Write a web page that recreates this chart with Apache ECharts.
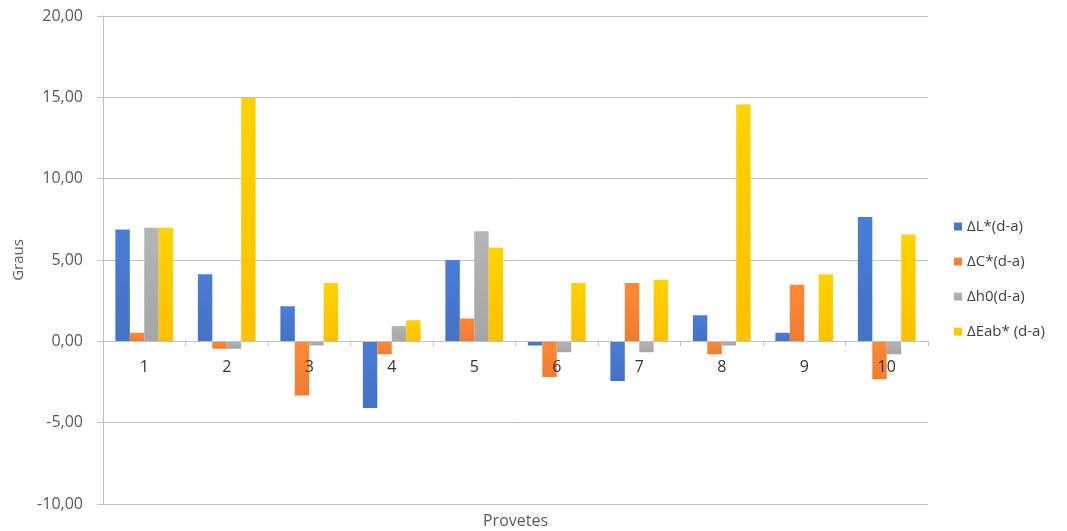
<!DOCTYPE html>
<html><head><meta charset="utf-8">
<script src="https://cdn.jsdelivr.net/npm/echarts@6/dist/echarts.min.js"></script>
<style>html,body{margin:0;padding:0;background:#fff}#c{width:1067px;height:531px}</style>
</head><body><div id="c"></div>
<script>
const categories = ['1','2','3','4','5','6','7','8','9','10'];
const seriesNames = ['ΔL*(d-a)','ΔC*(d-a)','Δh0(d-a)','ΔEab* (d-a)'];
const dL = [6.87, 4.13, 2.15, -4.10, 5.00, -0.25, -2.44, 1.60, 0.52, 7.65];
const dC = [0.52, -0.45, -3.33, -0.79, 1.40, -2.19, 3.58, -0.79, 3.48, -2.33];
const dH = [6.98, -0.45, -0.25, 0.94, 6.77, -0.67, -0.67, -0.25, 0.02, -0.79];
const dE = [6.98, 14.98, 3.58, 1.29, 5.77, 3.58, 3.79, 14.56, 4.13, 6.56];
const colors = ['#4472C4','#ED7D31','#A5A5A5','#FFC000'];
const values = [dL, dC, dH, dE];
const font = 'Open Sans, Liberation Sans, sans-serif';
const chart = echarts.init(document.getElementById('c'));
chart.setOption({
  animation: false,
  color: colors,
  grid: {left: 103, right: 139, top: 16, bottom: 27, containLabel: false, outerBoundsMode: 'none'},
  legend: {
    orient: 'vertical', left: 949, top: 213, itemWidth: 8, itemHeight: 8, itemGap: 18,
    icon: 'rect', textStyle: {fontFamily: font, fontSize: 15, lineHeight: 17, color: '#404040'},
    data: seriesNames
  },
  xAxis: {
    type: 'category', data: categories, z: 10,
    name: 'Provetes', nameLocation: 'middle', nameGap: 10,
    nameTextStyle: {fontFamily: font, fontSize: 16, color: '#595959'},
    axisLine: {onZero: false, lineStyle: {color: '#BFBFBF', width: 1}},
    axisTick: {show: true, length: 5, lineStyle: {color: '#BFBFBF'}},
    axisLabel: {fontFamily: font, fontSize: 16, color: '#333333', margin: 18}
  },
  yAxis: {
    type: 'value', min: -10, max: 20, interval: 5,
    name: 'Graus', nameLocation: 'middle', nameGap: 70, nameRotate: 90,
    nameTextStyle: {fontFamily: font, fontSize: 15, color: '#595959'},
    axisLine: {show: true, lineStyle: {color: '#BFBFBF'}},
    axisTick: {show: true, length: 6, lineStyle: {color: '#BFBFBF'}},
    splitLine: {lineStyle: {color: '#BFBFBF', width: 1}},
    axisLabel: {fontFamily: font, fontSize: 16, color: '#595959', margin: 20,
      formatter: v => v.toFixed(2).replace('.', ',')}
  },
  series: seriesNames.map((n, i) => ({
    name: n, type: 'bar', data: values[i], barGap: '0%', barCategoryGap: '30%',
    itemStyle: {color: new echarts.graphic.LinearGradient(0,0,0,1,[
      {offset: 0, color: echarts.color.lift(colors[i], -0.1)},
      {offset: 1, color: colors[i]}])}
  }))
});
// move the category axis (line, ticks, labels) up to the zero value line
const yZero = chart.convertToPixel({yAxisIndex: 0}, 0);
const yBottom = chart.convertToPixel({yAxisIndex: 0}, -10);
const shift = yBottom - yZero;
chart.setOption({xAxis: {offset: -shift, nameGap: shift + 9}});
</script></body></html>
